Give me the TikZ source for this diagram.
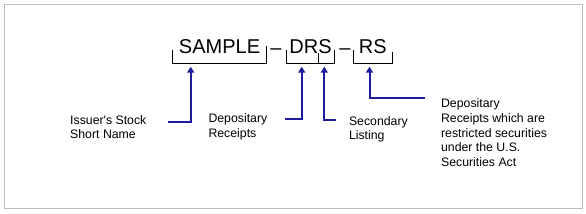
\documentclass[tikz,border=0pt]{standalone}
\usepackage{fontspec}
\setmainfont{Liberation Sans}
\usetikzlibrary{arrows.meta}
\definecolor{arrblue}{RGB}{28,28,156}
\definecolor{framegray}{RGB}{188,188,188}
\begin{document}
\begin{tikzpicture}[x=1pt,y=-1pt,
  part/.style={inner sep=0pt,minimum height=32.6pt,anchor=south west,font=\fontsize{20}{24}\selectfont},
  lbl/.style={inner sep=0pt,anchor=north west,align=left,font=\fontsize{12.3}{14.8}\selectfont},
  arr/.style={draw=arrblue,line width=2pt,-{Triangle[length=6pt,width=7pt]}},
  brk/.style={draw=black,line width=0.8pt}]
  \useasboundingbox (0,0) rectangle (586,214);
  \draw[framegray,line width=1pt] (4,4) rectangle (582,208);
  % ticker parts (bracket bottoms at y=63)
  \def\tk{13pt}
  \node[part,minimum width=93.3pt] (sample) at (172.7,63) {SAMPLE};
  \node[part,minimum width=47.3pt] (drs) at (286.7,63) {DRS};
  \node[part,minimum width=38.4pt] (rs) at (353.3,63) {RS};
  \node[part,anchor=base] (dashA) at (276,54) {--};
  \node[part,anchor=base] (dashB) at (345,54) {--};
  \coordinate (split) at ([xshift=31.6pt]drs.south west);
  % brackets
  \draw[brk] ([yshift=\tk]sample.south west) -- (sample.south west) -- (sample.south east) -- ([yshift=17pt]sample.south east);
  \draw[brk] ([yshift=\tk]drs.south west) -- (drs.south west) -- (drs.south east) -- ([yshift=\tk]drs.south east);
  \draw[brk] (split) -- ([yshift=10pt]split);
  \draw[brk] ([yshift=\tk]rs.south west) -- (rs.south west) -- (rs.south east) -- ([yshift=11pt]rs.south east);
  % labels
  \node[lbl] (issuer) at (70,115) {Issuer\textquotesingle s Stock\\Short Name};
  \node[lbl] (depo) at (208.3,113.3) {Depositary\\Receipts};
  \node[lbl] (second) at (348.8,116) {Secondary\\Listing};
  \node[lbl] (restr) at (440.9,98.3) {Depositary\\Receipts which are\\restricted securities\\under the U.S.\\Securities Act};
  % arrows
  \coordinate (cA) at (168,121.7);
  \coordinate (cB) at (285,119.3);
  \coordinate (cC) at (336,120);
  \coordinate (cD) at (425,98.3);
  \draw[arr,shorten >=3.7pt] (cA) -| ([xshift=18pt]sample.south west);
  \draw[arr,shorten >=3.7pt] (cB) -| ([xshift=15pt]drs.south west);
  \draw[arr,shorten >=3.7pt] (cC) -| ([xshift=37.6pt]drs.south west);
  \draw[arr,shorten >=3.7pt] (cD) -| ([xshift=-3.2pt]rs.south);
\end{tikzpicture}
\end{document}
